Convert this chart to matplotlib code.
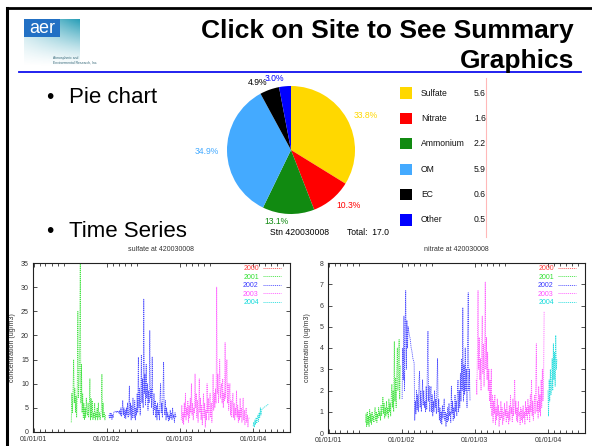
import matplotlib
matplotlib.use('Agg')
import matplotlib.pyplot as plt
import matplotlib.dates as mdates
import numpy as np
import datetime as dt
from matplotlib.lines import Line2D
from matplotlib.patches import Rectangle

# ---------------- data ----------------
title_line1 = 'Click on Site to See Summary'
title_line2 = 'Graphics'
bullets = ['Pie chart', 'Time Series']

pie_labels = ['Sulfate', 'Nitrate', 'Ammonium', 'OM', 'EC', 'Other']
pie_pct = [33.8, 10.3, 13.1, 34.9, 4.9, 3.0]
pie_values = ['5.6', '1.6', '2.2', '5.9', '0.6', '0.5']
pie_colors = ['#ffd800', '#ff0000', '#118a11', '#44aaff', '#000000', '#0000ff']
station = '420030008'
total = '17.0'

years = ['2000', '2001', '2002', '2003', '2004']
year_colors = ['#ff4040', '#30e030', '#3a3aff', '#ff50ff', '#10dada']
step_days = 3

sulfate_2001_start = '2001-07-08'
sulfate_2001 = [2.0, 8.0, 4.0, 9.0, 15.0, 6.0, 9.0, 4.0, 7.5, 3.0, 9.0, 25.0, 7.0, 10.0, 18.0,
                35.0, 6.0, 14.0, 4.0, 8.0, 3.0, 6.0, 2.5, 5.0, 3.0, 7.0, 4.0, 3.5, 6.0, 3.0,
                5.0, 11.0, 2.5, 7.0, 3.0, 6.5, 2.5, 4.0, 3.0, 6.0, 2.5, 4.0, 3.0, 5.0, 2.5,
                6.0, 3.0, 4.0, 2.5, 3.5, 4.5, 12.0, 3.0, 6.0, 3.0, 4.0, 2.5, 3.5]
sulfate_2002_start = '2002-01-12'
sulfate_2002 = [3.5, 2.8, 4.0, 3.0, 3.8, 2.6, 3.6, 3.0, 4.0, 4.2, 4.3, 4.1, 4.2, 4.0, 4.4,
                4.2, 4.3, 3.8, 4.5, 3.5, 5.0, 3.2, 4.5, 6.5, 3.5, 5.0, 3.0, 4.5, 2.8, 5.0,
                3.5, 6.0, 3.0, 4.5, 9.5, 3.5, 6.0, 2.5, 5.5, 3.0, 7.0, 4.0, 3.0, 6.5, 2.5,
                5.0, 3.5, 8.0, 4.0, 15.5, 5.0, 9.0, 3.5, 7.0, 16.0, 6.0, 11.0, 5.0, 27.5, 8.0,
                12.0, 5.5, 14.0, 7.0, 10.0, 4.5, 8.5, 6.0, 21.0, 7.0, 9.0, 5.0, 15.5, 6.5, 3.5,
                8.0, 4.5, 6.5, 3.0, 5.5, 2.5, 6.0, 3.5, 4.5, 2.5, 7.0, 10.0, 4.0, 6.0, 3.0,
                8.0, 14.5, 5.0, 3.5, 6.5, 2.5, 5.0, 3.0, 4.0, 2.2, 3.5, 2.5, 4.5, 3.0, 4.0,
                2.5, 5.0, 3.0, 3.5, 2.0, 4.0, 3.0, 3.5]
sulfate_2003_start = '2003-01-08'
sulfate_2003 = [2.5, 5.5, 2.0, 4.0, 1.5, 6.0, 3.0, 8.0, 2.5, 5.0, 3.5, 6.5, 2.0, 5.5, 3.0,
                7.0, 4.0, 10.0, 3.5, 6.0, 2.5, 5.0, 4.0, 12.0, 5.0, 8.0, 3.0, 6.5, 2.0, 5.0,
                11.0, 4.0, 7.0, 2.5, 5.5, 1.5, 4.0, 8.0, 3.0, 6.0, 1.0, 4.5, 2.5, 10.0, 4.0,
                7.0, 2.5, 5.0, 8.0, 3.0, 6.0, 2.0, 5.0, 12.0, 4.5, 8.0, 5.0, 9.0, 6.0, 30.0,
                8.0, 12.0, 6.0, 10.0, 15.0, 7.0, 9.0, 10.0, 6.0, 11.0, 5.0, 8.0, 6.5, 18.5, 7.0,
                12.0, 15.0, 6.0, 10.0, 4.5, 8.0, 10.0, 3.5, 6.5, 3.0, 5.5, 8.0, 3.0, 6.0, 2.5,
                5.0, 3.5, 8.5, 3.0, 5.5, 2.0, 4.5, 2.5, 7.0, 3.0, 5.0, 2.0, 4.0, 7.0, 2.5,
                4.5, 1.5, 3.5, 5.0, 2.0, 3.5, 1.0, 2.5, 3.0]
sulfate_2004_dates = ['2004-01-02', '2004-01-05', '2004-01-08', '2004-01-11', '2004-01-14',
                      '2004-01-17', '2004-01-20', '2004-01-23', '2004-01-26', '2004-01-29',
                      '2004-02-01', '2004-02-04', '2004-02-07', '2004-02-10', '2004-02-13',
                      '2004-02-16', '2004-03-20']
sulfate_2004 = [1.2, 2.0, 1.0, 2.5, 1.5, 3.0, 1.8, 2.5, 3.5, 2.2, 4.0, 3.0, 5.0, 3.5, 4.5, 4.8, 5.8]

nitrate_2001_start = '2001-07-04'
nitrate_2001 = [0.5, 0.9, 0.3, 1.0, 0.4, 0.8, 0.3, 1.1, 0.5, 0.9, 0.4, 1.0, 0.6, 0.8, 0.5,
                0.9, 1.2, 0.6, 1.0, 0.5, 0.9, 0.7, 1.2, 0.8, 1.0, 0.6, 1.3, 0.8, 1.1, 1.7,
                0.9, 1.4, 0.7, 1.2, 0.8, 1.5, 0.9, 1.2, 0.7, 1.6, 1.0, 1.4, 0.8, 1.8, 2.3,
                1.2, 2.0, 1.0, 4.3, 1.5, 2.6, 1.2, 2.8, 4.0, 2.0, 3.0, 4.4, 1.6, 3.2]
nitrate_2002_start = '2002-01-03'
nitrate_2002 = [1.6, 4.0, 2.5, 5.5, 2.0, 5.0, 6.7, 3.0, 5.3, 4.0, 5.0, 4.8, 4.6, 4.5, 4.3,
                4.0, 3.9, 3.7, 3.5, 3.4, 3.3, 0.6, 1.5, 0.9, 2.0, 1.1, 1.8, 1.0, 2.4, 2.9,
                1.2, 2.0, 1.0, 1.6, 2.5, 1.3, 2.0, 1.2, 1.5, 1.0, 2.2, 1.1, 3.0, 4.8, 1.5,
                2.2, 1.0, 1.7, 2.2, 1.0, 1.8, 0.8, 1.5, 1.0, 2.0, 1.2, 1.6, 0.9, 2.4, 3.5,
                1.0, 1.6, 0.6, 1.2, 0.5, 1.0, 0.4, 1.3, 0.7, 1.1, 1.6, 0.6, 1.0, 0.3, 0.9,
                0.5, 1.2, 0.6, 1.4, 0.8, 1.0, 0.5, 2.2, 0.9, 1.5, 0.6, 1.2, 0.7, 1.8, 1.0,
                1.5, 0.8, 1.9, 2.5, 1.0, 2.0, 1.2, 2.8, 1.5, 3.5, 2.0, 5.9, 1.5, 3.2, 1.8,
                4.0, 2.0, 3.0, 1.2, 4.5, 6.6, 2.0, 3.0, 1.5]
nitrate_2003_start = '2003-01-08'
nitrate_2003 = [2.5, 1.8, 4.0, 6.7, 3.0, 4.5, 2.5, 3.5, 2.0, 4.0, 5.5, 2.8, 4.2, 2.2, 3.5,
                7.1, 3.0, 4.5, 2.5, 3.8, 2.0, 3.0, 1.5, 2.5, 1.2, 3.0, 0.8, 1.8, 0.5, 1.5,
                0.9, 1.8, 0.4, 1.2, 0.6, 1.6, 0.8, 1.3, 0.3, 1.0, 0.6, 1.5, 0.7, 1.2, 0.4,
                1.0, 0.6, 1.4, 0.8, 1.1, 0.5, 1.5, 0.7, 1.0, 0.4, 1.3, 0.6, 1.8, 0.9, 1.2,
                0.5, 1.6, 0.8, 1.4, 2.5, 0.9, 1.5, 0.6, 1.2, 0.5, 1.5, 0.8, 1.0, 0.4, 1.2,
                0.6, 1.1, 0.5, 1.3, 0.7, 1.0, 0.4, 1.5, 0.8, 1.2, 0.6, 1.6, 0.9, 1.3, 0.5,
                1.8, 1.0, 2.5, 0.8, 1.5, 0.6, 1.2, 1.8, 0.9, 2.2, 4.2, 1.0, 1.5, 0.7, 2.2,
                1.0, 1.8, 0.8, 2.5, 1.2, 3.0, 1.5, 2.0, 5.7]
nitrate_2004_start = '2004-01-01'
nitrate_2004 = [2.0, 0.8, 2.5, 1.5, 3.0, 1.8, 2.2, 3.5, 2.0, 4.2, 2.5, 3.8, 2.2, 4.6, 3.0, 3.5]

x_start = '2000-12-29'
x_end = '2004-07-04'

# ---------------- helpers ----------------
W, H = 592, 446
fig = plt.figure(figsize=(W / 100, H / 100), dpi=100)
fig.patch.set_facecolor('white')
SANS = 'Liberation Sans'


def fx(x):
    return x / W


def fy(y):
    return 1 - y / H


def box(x0, y0, x1, y1):
    return [fx(x0), fy(y1), (x1 - x0) / W, (y1 - y0) / H]


def sample_dates(start, n):
    d0 = dt.datetime.strptime(start, '%Y-%m-%d')
    return [d0 + dt.timedelta(days=step_days * i) for i in range(n)]


def parse(ds):
    return [dt.datetime.strptime(s, '%Y-%m-%d') for s in ds]


# ---------------- slide frame ----------------
fig.add_artist(Line2D([fx(7), fx(592)], [fy(8), fy(8)], color='black', lw=2.0))
fig.add_artist(Line2D([fx(7), fx(7)], [fy(8), fy(446)], color='black', lw=2.2))
fig.add_artist(Line2D([fx(19), fx(581)], [fy(72), fy(72)], color='#1010ee', lw=1.3))

# logo
lax = fig.add_axes(box(24, 19, 80, 67))
u = np.linspace(0, 1, 60)[None, :]
v = np.linspace(0, 1, 50)[:, None]
alpha = np.clip((1 - v) ** 1.3 * (0.35 + 0.65 * u), 0, 1)
img = np.zeros((50, 60, 4))
img[..., 0] = 0.16
img[..., 1] = 0.62
img[..., 2] = 0.72
img[..., 3] = alpha
lax.imshow(img, aspect='auto', extent=[0, 1, 0, 1], interpolation='bilinear')
lax.set_xlim(0, 1)
lax.set_ylim(0, 1)
lax.axis('off')
fig.patches.append(Rectangle((fx(24), fy(37)), 36 / W, 18 / H, transform=fig.transFigure,
                             facecolor='#2270c4', edgecolor='none', zorder=3))
fig.text(fx(42), fy(28.5), 'aer', color='white', fontsize=13, family=SANS,
         ha='center', va='center', zorder=4)
fig.text(fx(53), fy(57.5), 'Atmospheric and', color='#336677', fontsize=2.4,
         family=SANS, va='center')
fig.text(fx(53), fy(62.5), 'Environmental Research, Inc.', color='#336677', fontsize=2.4,
         family=SANS, va='center')

# title
fig.text(fx(574), fy(38), title_line1, fontsize=19, fontweight='bold', family=SANS,
         ha='right', va='baseline')
fig.text(fx(574), fy(68), title_line2, fontsize=19, fontweight='bold', family=SANS,
         ha='right', va='baseline')

# bullets
for txt, yb in zip(bullets, [103, 237]):
    fig.text(fx(46), fy(yb), '\u2022', fontsize=15, family=SANS, va='baseline')
    fig.text(fx(69), fy(yb), txt, fontsize=16, family=SANS, va='baseline')

# ---------------- pie ----------------
pax = fig.add_axes(box(227, 86, 355, 214))
wedges, texts = pax.pie(pie_pct, colors=pie_colors, startangle=90, counterclock=False,
                        labels=[f'{p:.1f}%' for p in pie_pct], labeldistance=1.12,
                        textprops=dict(fontsize=6.2, family=SANS),
                        wedgeprops=dict(linewidth=0))
for t, c in zip(texts, pie_colors):
    t.set_color(c)
pax.set_xlim(-1, 1)
pax.set_ylim(-1, 1)
pax.set_aspect('equal')
fig.text(fx(270), fy(233), f'Stn {station}', fontsize=6.2, family=SANS, va='center')
fig.text(fx(347), fy(233), f'Total:  {total}', fontsize=6.2, family=SANS, va='center')

# pie legend
gax = fig.add_axes(box(395, 80, 486, 232))
gax.set_xlim(395, 486)
gax.set_ylim(232, 80)
gax.axis('off')
rows = [93 + 25.4 * i for i in range(len(pie_labels))]
gax.scatter([406] * len(rows), rows, marker='s', s=64, c=pie_colors, linewidths=0)
for r, lab, val in zip(rows, pie_labels, pie_values):
    gax.text(421, r, lab, fontsize=6.2, family=SANS, va='center', color='#111111')
    gax.text(474, r, val, fontsize=6.2, family=SANS, va='center', color='#111111',
             clip_on=True)
fig.add_artist(Line2D([fx(486), fx(486)], [fy(78), fy(237)], color='#ffb8b8', lw=0.8))


# ---------------- time series ----------------
def ts_panel(rect, title, series, ymax, ystep):
    ax = fig.add_axes(rect)
    for yr, col in zip(years, year_colors):
        if yr in series:
            d, vals = series[yr]
            ax.plot(d, vals, color=col, lw=0.6, ls=(0, (1.3, 1.0)), label=yr, alpha=0.9)
        else:
            ax.plot([], [], color=col, lw=0.6, ls=(0, (1.3, 1.0)), label=yr, alpha=0.9)
    ax.set_xlim(dt.datetime.strptime(x_start, '%Y-%m-%d'),
                dt.datetime.strptime(x_end, '%Y-%m-%d'))
    ax.set_ylim(0, ymax)
    ax.set_yticks(np.arange(0, ymax + 0.001, ystep))
    ax.xaxis.set_major_locator(mdates.YearLocator())
    ax.xaxis.set_major_formatter(mdates.DateFormatter('%m/%d/%y'))
    ax.xaxis.set_minor_locator(mdates.MonthLocator(bymonth=[2, 3, 4, 5, 6]))
    ax.tick_params(which='both', direction='in', top=True, right=True, color='#333333',
                   width=0.6, labelsize=5, labelcolor='#333333', pad=3)
    ax.tick_params(which='major', length=3)
    ax.tick_params(which='minor', length=2)
    for lab in ax.get_xticklabels() + ax.get_yticklabels():
        lab.set_family(SANS)
    for s in ax.spines.values():
        s.set_linewidth(0.8)
        s.set_color('#222222')
    ax.set_ylabel('concentration (ug/m3)', fontsize=5, family=SANS, color='#333333')
    ax.yaxis.set_label_coords(-0.065, 0.5)
    ax.text(0.5, 1.077, title, transform=ax.transAxes, ha='center', va='center',
            fontsize=5, family=SANS, color='#333333')
    ax.legend(loc='upper right', bbox_to_anchor=(rect[0] + rect[2] - 9 / W, fy(265)),
              bbox_transform=fig.transFigure, frameon=False, markerfirst=False,
              labelcolor='linecolor', handlelength=2.6, handletextpad=0.6,
              labelspacing=0.22, borderpad=0, borderaxespad=0,
              prop=dict(family=SANS, size=5))
    return ax


sulfate_series = {
    '2001': (sample_dates(sulfate_2001_start, len(sulfate_2001)), sulfate_2001),
    '2002': (sample_dates(sulfate_2002_start, len(sulfate_2002)), sulfate_2002),
    '2003': (sample_dates(sulfate_2003_start, len(sulfate_2003)), sulfate_2003),
    '2004': (parse(sulfate_2004_dates), sulfate_2004),
}
nitrate_series = {
    '2001': (sample_dates(nitrate_2001_start, len(nitrate_2001)), nitrate_2001),
    '2002': (sample_dates(nitrate_2002_start, len(nitrate_2002)), nitrate_2002),
    '2003': (sample_dates(nitrate_2003_start, len(nitrate_2003)), nitrate_2003),
    '2004': (sample_dates(nitrate_2004_start, len(nitrate_2004)), nitrate_2004),
}

ts_panel(box(33, 263, 290, 432), f'sulfate at {station}', sulfate_series, 35, 5)
ts_panel(box(328, 263, 585, 433), f'nitrate at {station}', nitrate_series, 8, 1)

fig.savefig('out.png', dpi=100, facecolor='white')
